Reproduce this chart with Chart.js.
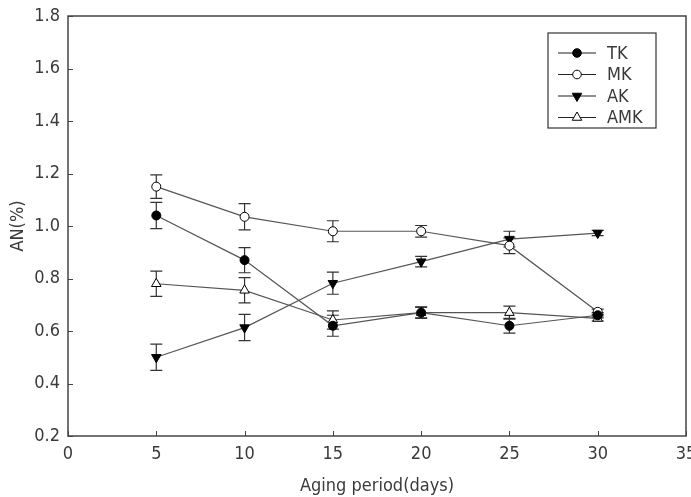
<!DOCTYPE html>
<html>
<head>
<meta charset="utf-8">
<script src="https://cdn.jsdelivr.net/npm/chart.js@4"></script>
<style>
  html, body { margin: 0; padding: 0; background: #fff; }
  #wrap { width: 691px; height: 497px; }
</style>
</head>
<body>
<div id="wrap"><canvas id="grafico"></canvas></div>
<script>
// ============================
// DADOS
// ============================
const dias = [5, 10, 15, 20, 25, 30];
const seriesNomes = ["TK", "MK", "AK", "AMK"];
const tk = [1.04, 0.87, 0.62, 0.67, 0.62, 0.66];
const tkErro = [0.05, 0.048, 0.04, 0.02, 0.028, 0.01];
const mk = [1.15, 1.035, 0.98, 0.98, 0.925, 0.673];
const mkErro = [0.045, 0.05, 0.04, 0.022, 0.03, 0.01];
const ak = [0.50, 0.613, 0.782, 0.864, 0.95, 0.973];
const akErro = [0.05, 0.05, 0.042, 0.02, 0.03, 0.01];
const amk = [0.78, 0.755, 0.642, 0.67, 0.67, 0.648];
const amkErro = [0.048, 0.048, 0.035, 0.022, 0.025, 0.01];
const xTicks = [0, 5, 10, 15, 20, 25, 30, 35];
const yTicks = [0.2, 0.4, 0.6, 0.8, 1.0, 1.2, 1.4, 1.6, 1.8];

const fonte = "'Liberation Sans Narrow', 'Arial Narrow', 'DejaVu Sans Condensed', Arial, sans-serif";
const corTexto = "#3a3a3a";

function pontos(valores) {
    return dias.map((d, i) => ({ x: d, y: valores[i] }));
}

function drawMarcador(ctx, estilo, invertido, x, y) {
    if (estilo === "circle") {
        ctx.arc(x, y, 4.3, 0, Math.PI * 2);
    } else {
        const r = 5.5;
        const s = invertido ? -1 : 1;
        ctx.moveTo(x, y - s * r);
        ctx.lineTo(x - r * 0.866, y + s * r * 0.5);
        ctx.lineTo(x + r * 0.866, y + s * r * 0.5);
        ctx.closePath();
    }
}

// ============================
// PLUGIN: barras de erro, moldura, legenda
// ============================
const pluginExtras = {
    id: "extras",
    beforeDatasetsDraw(chart) {
        const ctx = chart.ctx;
        const xs = chart.scales.x, ys = chart.scales.y;
        ctx.save();
        ctx.strokeStyle = "#333";
        ctx.lineWidth = 1.2;
        chart.data.datasets.forEach(ds => {
            ds.data.forEach((p, i) => {
                const e = ds.erros[i];
                const px = xs.getPixelForValue(p.x);
                const top = ys.getPixelForValue(p.y + e);
                const bot = ys.getPixelForValue(p.y - e);
                ctx.beginPath();
                ctx.moveTo(px, top); ctx.lineTo(px, bot);
                ctx.moveTo(px - 6, top); ctx.lineTo(px + 6, top);
                ctx.moveTo(px - 6, bot); ctx.lineTo(px + 6, bot);
                ctx.stroke();
            });
        });
        ctx.restore();
    },
    afterDraw(chart) {
        const ctx = chart.ctx;
        const a = chart.chartArea;
        const xs = chart.scales.x, ys = chart.scales.y;
        ctx.save();
        // moldura
        ctx.strokeStyle = "#444";
        ctx.lineWidth = 1.5;
        ctx.strokeRect(a.left, a.top, a.right - a.left, a.bottom - a.top);
        // marcas para dentro
        ctx.lineWidth = 1;
        ctx.beginPath();
        xTicks.forEach(v => {
            const px = Math.round(xs.getPixelForValue(v)) + 0.5;
            ctx.moveTo(px, a.bottom); ctx.lineTo(px, a.bottom - 5);
        });
        yTicks.forEach(v => {
            const py = Math.round(ys.getPixelForValue(v)) + 0.5;
            ctx.moveTo(a.left, py); ctx.lineTo(a.left + 5, py);
        });
        ctx.stroke();

        // legenda
        const bx = 548, by = 33, bw = 108, bh = 95;
        ctx.fillStyle = "#fff";
        ctx.fillRect(bx, by, bw, bh);
        ctx.strokeStyle = "#333";
        ctx.lineWidth = 1.2;
        ctx.strokeRect(bx, by, bw, bh);
        ctx.font = "18px " + fonte;
        ctx.textBaseline = "middle";
        chart.data.datasets.forEach((ds, i) => {
            const y = by + 20 + i * 21.5;
            ctx.strokeStyle = "#222";
            ctx.lineWidth = 1.2;
            ctx.beginPath();
            ctx.moveTo(bx + 10, y); ctx.lineTo(bx + 48, y);
            ctx.stroke();
            ctx.fillStyle = ds.pointBackgroundColor;
            ctx.strokeStyle = "#000";
            ctx.lineWidth = 1;
            ctx.beginPath();
            drawMarcador(ctx, ds.pointStyle, ds.pointRotation === 180, bx + 29, y);
            ctx.fill(); ctx.stroke();
            ctx.fillStyle = corTexto;
            ctx.fillText(ds.label, bx + 59, y + 1);
        });
        ctx.restore();
    }
};

// ============================
// GRAFICO
// ============================
function serie(nome, valores, erros, estilo, rot, fundo) {
    const raio = estilo === "triangle" ? 5.5 : 4.5;
    return {
        label: nome,
        data: pontos(valores),
        erros: erros,
        borderColor: "#555",
        borderWidth: 1.2,
        pointStyle: estilo,
        pointRotation: rot,
        pointRadius: raio,
        pointHoverRadius: raio,
        pointBackgroundColor: fundo,
        pointBorderColor: "#000",
        pointBorderWidth: 1,
        tension: 0
    };
}

new Chart(document.getElementById("grafico"), {
    type: "line",
    data: {
        datasets: [
            serie(seriesNomes[0], tk, tkErro, "circle", 0, "#000"),
            serie(seriesNomes[1], mk, mkErro, "circle", 0, "#fff"),
            serie(seriesNomes[2], ak, akErro, "triangle", 180, "#000"),
            serie(seriesNomes[3], amk, amkErro, "triangle", 0, "#fff")
        ]
    },
    options: {
        responsive: true,
        maintainAspectRatio: false,
        animation: false,
        layout: { autoPadding: false, padding: { top: 16, right: 5, left: 0, bottom: 0 } },
        plugins: { legend: { display: false }, tooltip: { enabled: false } },
        scales: {
            x: {
                type: "linear",
                min: 0, max: 35,
                afterBuildTicks: s => { s.ticks = xTicks.map(v => ({ value: v })); },
                afterFit: s => { s.height = 61; s.paddingLeft = 0; s.paddingRight = 0; },
                grid: { display: false, drawTicks: false },
                border: { display: false },
                ticks: { color: corTexto, font: { family: fonte, size: 18 }, padding: 8, maxRotation: 0 },
                title: { display: true, text: "Aging period(days)", color: corTexto,
                         font: { family: fonte, size: 18 }, padding: { top: 0, bottom: 0 } }
            },
            y: {
                min: 0.2, max: 1.8,
                afterBuildTicks: s => { s.ticks = yTicks.map(v => ({ value: v })); },
                afterFit: s => { s.width = 68; s.paddingTop = 0; s.paddingBottom = 0; },
                grid: { display: false, drawTicks: false },
                border: { display: false },
                ticks: { color: corTexto, font: { family: fonte, size: 18 }, padding: 8,
                         callback: v => v.toFixed(1) },
                title: { display: true, text: "AN(%)", color: corTexto,
                         font: { family: fonte, size: 18 }, padding: { top: 8, bottom: 0 } }
            }
        }
    },
    plugins: [pluginExtras]
});
</script>
</body>
</html>
